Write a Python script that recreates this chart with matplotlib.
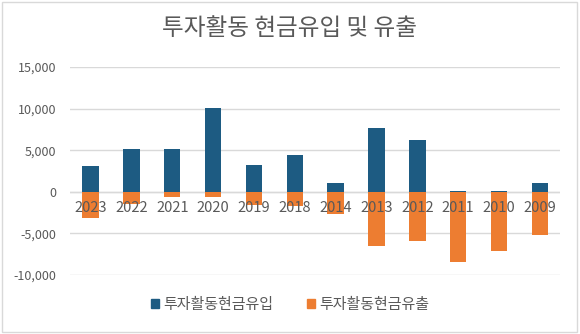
import numpy as np
import matplotlib.pyplot as plt
from matplotlib.patches import Patch, Rectangle

plt.rcParams['font.family'] = ['Noto Sans CJK KR', 'DejaVu Sans']

years = ['2023', '2022', '2021', '2020', '2019', '2018', '2014', '2013', '2012', '2011', '2010', '2009']
inflow = [3100, 5200, 5200, 10050, 3200, 4450, 1100, 7700, 6200, 150, 150, 1100]
outflow = [-3150, -1500, -600, -600, -1600, -1700, -2700, -6500, -5900, -8450, -7100, -5200]

blue = '#1D5B82'
orange = '#ED7D31'
grey = '#595959'

fig = plt.figure(figsize=(5.8, 3.34), dpi=100)
fig.patches.append(Rectangle((0.004, 0.006), 0.99, 0.988, transform=fig.transFigure,
                             fill=False, edgecolor='#D9D9D9', linewidth=1))
ax = fig.add_axes([0.121, 0.177, 0.845, 0.622])

x = np.arange(len(years))
ax.bar(x, inflow, width=0.4, color=blue, zorder=2)
ax.bar(x, outflow, width=0.4, color=orange, zorder=2)

ax.set_ylim(-10000, 15000)
ax.set_xlim(-0.5, len(years) - 0.5)
ax.set_yticks(np.arange(-10000, 15001, 5000))
ax.set_yticklabels([f'{v:,}' for v in range(-10000, 15001, 5000)], color=grey, fontsize=9)
ax.tick_params(axis='y', length=0, pad=10)
ax.set_xticks([])
ax.grid(axis='y', color='#D9D9D9', linewidth=1, zorder=0)
ax.axhline(0, color='#D9D9D9', linewidth=1, zorder=1)
for s in ax.spines.values():
    s.set_visible(False)

for xi, label in zip(x, years):
    ax.text(xi, -1100, label, ha='center', va='top', color=grey, fontsize=10.5, zorder=3)

fig.text(0.5, 0.915, '투자활동 현금유입 및 유출', ha='center', va='center', fontsize=17, color=grey)

handles = [Patch(color=blue, label='투자활동현금유입'), Patch(color=orange, label='투자활동현금유출')]
fig.legend(handles=handles, loc='center', bbox_to_anchor=(0.5, 0.087), ncol=2, frameon=False,
           fontsize=10.8, labelcolor=grey, handlelength=0.55, handleheight=0.55, handletextpad=0.3,
           columnspacing=2.2)

plt.savefig('out.png', dpi=100)
